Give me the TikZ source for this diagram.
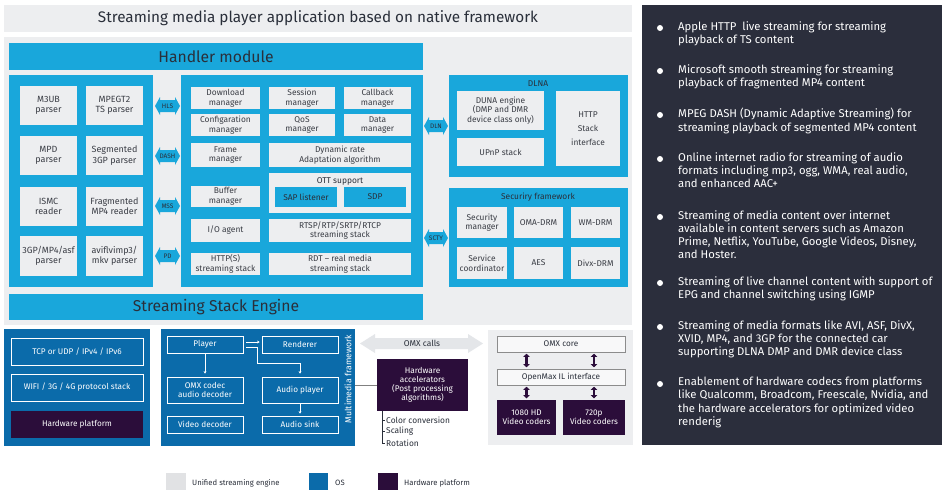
\documentclass[tikz,border=0pt]{standalone}
\usepackage{fontspec}
\setmainfont{Fira Sans}
\usetikzlibrary{calc,arrows.meta}

\definecolor{cyanb}{HTML}{19A7DB}
\definecolor{paleg}{HTML}{EDEEF0}
\definecolor{osblue}{HTML}{0B6BAA}
\definecolor{hwpurp}{HTML}{2B0D3A}
\definecolor{sidebg}{HTML}{2B2E3C}
\definecolor{ink}{HTML}{2A2F3A}
\definecolor{boxtxt}{HTML}{3A3D45}
\definecolor{omxarrow}{HTML}{E4E6E9}
\definecolor{coreedge}{HTML}{8C8C8C}

\newcommand\fsz[2]{\fontsize{#1}{#2}\selectfont}

% rectangle node given by its corners (x1,y1) (x2,y2)
\newcommand\bx[7][]{%
  \pgfmathsetmacro\bxw{#5-#3}\pgfmathsetmacro\bxh{#6-#4}%
  \pgfmathsetmacro\bxcx{(#3+#5)/2}\pgfmathsetmacro\bxcy{(#4+#6)/2}%
  \node[inner sep=0pt,align=center,#1,minimum width=\bxw pt,minimum height=\bxh pt] (#2) at (\bxcx,\bxcy) {#7};}

% small cyan two-headed link with its label
\newcommand\cyarrow[5]{%
  \fill[cyanb] (#2,#4) -- (#2+5,#4-9) -- (#2+5,#4-6) -- (#3-5,#4-6) -- (#3-5,#4-9)
    -- (#3,#4) -- (#3-5,#4+9) -- (#3-5,#4+6) -- (#2+5,#4+6) -- (#2+5,#4+9) -- cycle;
  \node[alabel] (#1) at ({(#2+#3)/2},#4) {#5};}

\begin{document}
\begin{tikzpicture}[x=1pt,y=-1pt,
  panel/.style={fill=paleg},
  cpanel/.style={fill=cyanb},
  hdr/.style={fill=cyanb,text=ink,font=\fsz{15.7}{18}},
  lbox/.style={fill=paleg,text=boxtxt,font=\fsz{8.4}{9.6}},
  pbox/.style={fill=paleg,text=boxtxt,font=\fsz{9}{10.2}},
  sbox/.style={fill=cyanb,text=ink,font=\fsz{8.4}{9.6}},
  obox/.style={draw=white,line width=0.6pt,text=white,font=\fsz{8.2}{9.4}},
  hbox/.style={fill=hwpurp,text=white,font=\fsz{8.2}{9}},
  cbox/.style={fill=white!60!paleg,draw=coreedge,line width=0.5pt,text=ink,font=\fsz{8.2}{9}},
  alabel/.style={text=ink,font=\fsz{6.5}{7},inner sep=0pt},
  ptitle/.style={text=ink,font=\fsz{8.4}{9.6},inner sep=0pt},
  flow/.style={white,line width=0.55pt,-{Stealth[length=2.6pt,width=2.8pt]}},
  dual/.style={hwpurp,line width=2.2pt,{Triangle[length=3.2pt,width=6.5pt]}-{Triangle[length=3.2pt,width=6.5pt]}},
  btext/.style={text=white,font=\fsz{11.3}{13.3},align=left,inner sep=0pt,anchor=north west},
  bdot/.style={circle,fill=white,inner sep=0pt,minimum size=6pt},
  legtxt/.style={text=ink,font=\fsz{7.7}{9},inner sep=0pt,anchor=west}
]
\useasboundingbox (0,0) rectangle (944,490);
\fill[white] (0,0) rectangle (944,490);

% ---------- unified streaming engine ----------
\bx[panel,text=ink,font=\fsz{15.3}{18}]{title}{4}{5}{632}{32}{Streaming media player application based on native framework}
\bx[panel]{engine}{4}{37}{632}{325}{}
\bx[hdr]{handler}{9}{43}{423}{70}{Handler module}
\bx[hdr]{stack}{9}{294}{423}{320}{Streaming Stack Engine}

% parsers
\bx[cpanel]{parsers}{9}{75}{153}{287}{}
\bx[pbox]{m3ub}{20}{86}{77}{125}{M3UB\\parser}
\bx[pbox]{mpegt}{86}{86}{143}{125}{MPEGT2\\TS parser}
\bx[pbox]{mpd}{20}{136}{77}{175}{MPD\\parser}
\bx[pbox]{seg}{86}{136}{143}{175}{Segmented\\3GP parser}
\bx[pbox]{ismc}{20}{187}{77}{226}{ISMC\\reader}
\bx[pbox]{frag}{86}{187}{143}{226}{Fragmented\\MP4 reader}
\bx[pbox]{gp}{20}{236}{77}{276}{3GP/MP4/asf\\parser}
\bx[pbox]{avi}{86}{236}{143}{276}{aviflvimp3/\\mkv parser}

% protocol links
\cyarrow{hls}{155}{180}{106}{HLS}
\cyarrow{dash}{155}{180}{156}{DASH}
\cyarrow{mss}{155}{180}{206}{MSS}
\cyarrow{pd}{155}{180}{256}{PD}

% core handler
\bx[cpanel]{core}{181}{75}{423}{287}{}
\bx[lbox]{dl}{191}{87}{260}{109}{Download\\manager}
\bx[lbox]{sess}{269}{87}{335}{109}{Session\\manager}
\bx[lbox]{cb}{344}{87}{411}{109}{Callback\\manager}
\bx[lbox]{cfg}{191}{114}{260}{136}{Configaration\\manager}
\bx[lbox]{qos}{269}{114}{335}{136}{QoS\\manager}
\bx[lbox]{data}{344}{114}{411}{136}{Data\\manager}
\bx[lbox]{frame}{191}{143}{260}{167}{Frame\\manager}
\bx[lbox]{dyn}{269}{143}{411}{167}{Dynamic rate\\Adaptation algorithm}
\bx[lbox]{ott}{269}{173}{411}{213}{}
\node[ptitle] (otttitle) at (340,181) {OTT support};
\bx[sbox]{sap}{275}{187}{337}{207}{SAP listener}
\bx[sbox]{sdp}{344}{187}{406}{207}{SDP}
\bx[lbox]{buf}{191}{186}{260}{207}{Buffer\\manager}
\bx[lbox]{io}{191}{219}{260}{242}{I/O agent}
\bx[lbox]{rtsp}{269}{219}{411}{242}{RTSP/RTP/SRTP/RTCP\\streaming stack}
\bx[lbox]{http}{191}{253}{260}{275}{HTTP(S)\\streaming stack}
\bx[lbox]{rdt}{269}{253}{411}{275}{RDT – real media\\streaming stack}

% DLNA
\cyarrow{dln}{424}{448}{126}{DLN}
\bx[cpanel]{dlna}{449}{75}{628}{177}{}
\node[ptitle] (dlnatitle) at (538,84) {DLNA};
\bx[lbox]{duna}{457}{91}{544}{130}{DUNA engine\\(DMP and DMR\\device class only)}
\bx[lbox]{upnp}{457}{138}{544}{166}{UPnP stack}
\bx[lbox,font=\fsz{8.4}{14}]{httpst}{556}{91}{620}{166}{HTTP\\Stack\\interface}

% security
\cyarrow{scty}{424}{448}{238}{SCTY}
\bx[cpanel]{sec}{449}{188}{628}{287}{}
\node[ptitle] (sectitle) at (538,197) {Securiry framework};
\bx[lbox]{secm}{457}{207}{507}{238}{Security\\manager}
\bx[lbox]{oma}{514}{207}{563}{238}{OMA-DRM}
\bx[lbox]{wm}{571}{207}{620}{238}{WM-DRM}
\bx[lbox]{svc}{457}{247}{507}{279}{Service\\coordinator}
\bx[lbox]{aes}{514}{247}{563}{279}{AES}
\bx[lbox]{divx}{571}{247}{620}{279}{Divx-DRM}

% ---------- OS ----------
\bx[fill=osblue]{os}{4}{329}{150}{446}{}
\bx[obox]{tcp}{11}{338}{143}{365}{TCP or UDP / IPv4 / IPv6}
\bx[obox]{wifi}{11}{374}{143}{401}{WIFI / 3G / 4G protocol stack}
\bx[hbox]{hwp}{11}{411}{143}{438}{Hardware platform}

% multimedia framework
\bx[fill=osblue]{mm}{161}{329}{355}{446}{}
\node[text=white,font=\fsz{8.7}{10},rotate=90,inner sep=0pt] (mmtitle) at (348,379) {Multimedia framework};
\bx[obox]{player}{167}{336}{243}{353}{Player}
\bx[obox]{renderer}{262}{336}{338}{353}{Renderer}
\bx[obox]{omxc}{167}{377}{243}{403}{OMX codec\\audio decoder}
\bx[obox]{aplayer}{262}{377}{338}{403}{Audio player}
\bx[obox]{vdec}{167}{416}{243}{433}{Video decoder}
\bx[obox]{asink}{262}{416}{338}{433}{Audio sink}
\draw[flow] ($(player.south)+(0,1)$) -- ($(omxc.north)+(0,-3)$);
\draw[flow] ($(player.east)+(3,-2.5)$) -- ($(renderer.west)+(-2,-2.5)$);
\draw[flow] ($(player.east)+(3,2.5)$) -- ++(11,0) |- ($(aplayer.north)+(0,-13)$) -- ($(aplayer.north)+(0,-3)$);
\draw[flow] ($(aplayer.south)+(0,1)$) -- ($(asink.north)+(0,-2)$);

% hardware accelerators
\bx[hbox]{hwacc}{377}{359}{468}{411}{Hardware\\accelerators\\(Post processing\\algorithms)}
\draw[gray,line width=0.7pt] (mm.east |- hwacc.west) -- (hwacc.west);
\node[text=ink,font=\fsz{8.4}{9},inner sep=1pt,anchor=west] (cconv) at (385,420) {Color conversion};
\node[text=ink,font=\fsz{8.4}{9},inner sep=1pt,anchor=west] (scal) at (385,431) {Scaling};
\node[text=ink,font=\fsz{8.4}{9},inner sep=1pt,anchor=west] (rota) at (385,443) {Rotation};
\draw[ink,line width=0.6pt] ($(hwacc.south west)+(5,0)$) |- (rota.west);
\draw[ink,line width=0.6pt] ($(hwacc.south west)+(5,0)$) |- (scal.west);
\draw[ink,line width=0.6pt] ($(hwacc.south west)+(5,0)$) |- (cconv.west);

% OMX calls
\fill[omxarrow] (360,343.5) -- (375,334) -- (375,338) -- (468,338) -- (468,334) -- (483,343.5)
  -- (468,353) -- (468,349) -- (375,349) -- (375,353) -- cycle;
\node[text=ink,font=\fsz{8.4}{9},inner sep=0pt] (omxcalls) at (422,343.5) {OMX calls};

% OpenMax side
\bx[panel]{omxp}{488}{330}{633}{445}{}
\bx[cbox]{omxcore}{497}{336}{625}{352}{OMX core}
\bx[cbox]{il}{497}{369}{625}{385}{OpenMax IL interface}
\bx[hbox]{hd}{497}{400}{556}{435}{1080 HD\\Video coders}
\bx[hbox]{sd}{563}{400}{625}{435}{720p\\Video coders}
\draw[dual] ($(omxcore.south -| hd)+(0,1.5)$) -- ($(il.north -| hd)+(0,-1.5)$);
\draw[dual] ($(omxcore.south -| sd)+(0,1.5)$) -- ($(il.north -| sd)+(0,-1.5)$);
\draw[dual] ($(il.south -| hd)+(0,1.5)$) -- ($(hd.north)+(0,-1.5)$);
\draw[dual] ($(il.south -| sd)+(0,1.5)$) -- ($(sd.north)+(0,-1.5)$);

% ---------- feature list ----------
\bx[fill=sidebg]{side}{642}{5}{942}{445}{}
\node[bdot] (d1) at (660,28) {};
\node[btext] (t1) at (678,21) {Apple HTTP\ \ live streaming for streaming\\playback of TS content};
\node[bdot] (d2) at (660,71) {};
\node[btext] (t2) at (678,64) {Microsoft smooth streaming for streaming\\playback of fragmented MP4 content};
\node[bdot] (d3) at (660,115) {};
\node[btext] (t3) at (678,108) {MPEG DASH (Dynamic Adaptive Streaming) for\\streaming playback of segmented MP4 content};
\node[bdot] (d4) at (660,159) {};
\node[btext] (t4) at (678,152) {Online internet radio for streaming of audio\\formats including mp3, ogg, WMA, real audio,\\and enhanced AAC+};
\node[bdot] (d5) at (660,217) {};
\node[btext] (t5) at (678,210) {Streaming of media content over internet\\available in content servers such as Amazon\\Prime, Netflix, YouTube, Google Videos, Disney,\\and Hoster.};
\node[bdot] (d6) at (660,283) {};
\node[btext] (t6) at (678,276) {Streaming of live channel content with support of\\EPG and channel switching using IGMP};
\node[bdot] (d7) at (660,327) {};
\node[btext] (t7) at (678,320) {Streaming of media formats like AVI, ASF, DivX,\\XVID, MP4, and 3GP for the connected car\\supporting DLNA DMP and DMR device class};
\node[bdot] (d8) at (660,384) {};
\node[btext] (t8) at (678,377) {Enablement of hardware codecs from platforms\\like Qualcomm, Broadcom, Freescale, Nvidia, and\\the hardware accelerators for optimized video\\renderig};

% ---------- legend ----------
\bx[fill=paleg!95!black]{lg1}{166}{473}{186}{490}{}
\node[legtxt] (lt1) at (192,483) {Unified streaming engine};
\bx[fill=osblue]{lg2}{309}{473}{328}{490}{}
\node[legtxt] (lt2) at (335,483) {OS};
\bx[fill=hwpurp]{lg3}{378}{473}{398}{490}{}
\node[legtxt] (lt3) at (404,483) {Hardware platform};
\end{tikzpicture}
\end{document}
